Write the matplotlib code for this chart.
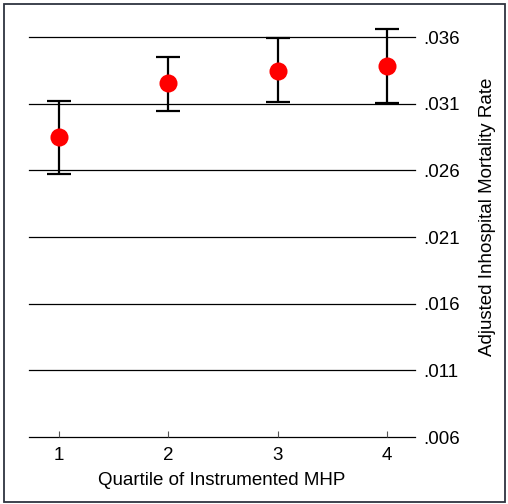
import matplotlib
matplotlib.use("Agg")
import matplotlib.pyplot as plt
from matplotlib.patches import Rectangle
from matplotlib.ticker import FixedLocator, FuncFormatter

plt.rcParams['font.family'] = ['Liberation Sans', 'DejaVu Sans']

quartiles = [1, 2, 3, 4]
rates = [0.02852, 0.03253, 0.03345, 0.03382]
ci_low = [0.02570, 0.03045, 0.03110, 0.03103]
ci_high = [0.03122, 0.03453, 0.03590, 0.03658]
y_ticks = [0.006, 0.011, 0.016, 0.021, 0.026, 0.031, 0.036]

W, H = 508, 504
fig = plt.figure(figsize=(W / 100, H / 100), dpi=100)
fig.patch.set_facecolor('white')

left, right, bottom, top = 29, 415, 437, 20
ax = fig.add_axes([left / W, 1 - bottom / H, (right - left) / W, (bottom - top) / H])

x0 = 1 - 30 / 109.5
x1 = 4 + 28 / 109.5
ax.set_xlim(x0, x1)
ax.set_ylim(0.006, 0.036 + 17 / 13.333 * 0.001)

for t in y_ticks:
    ax.axhline(t, color='black', lw=0.9, zorder=1, clip_on=False)

yerr = [[r - l for r, l in zip(rates, ci_low)], [h - r for r, h in zip(rates, ci_high)]]
ax.errorbar(quartiles, rates, yerr=yerr, fmt='none', ecolor='black', elinewidth=1.6,
            capsize=8.5, capthick=1.6, zorder=2)
ax.plot(quartiles, rates, 'o', color='#ff0000', markersize=13, markeredgewidth=0, zorder=3)

for s in ['top', 'left', 'right', 'bottom']:
    ax.spines[s].set_visible(False)

fs = 13.5
ax.yaxis.tick_right()
ax.yaxis.set_major_locator(FixedLocator(y_ticks))
ax.yaxis.set_major_formatter(FuncFormatter(lambda v, p: ('%.3f' % v).lstrip('0')))
ax.tick_params(axis='y', length=0, pad=6, labelsize=fs)
fig.text(487 / W, 1 - 217 / H, 'Adjusted Inhospital Mortality Rate', fontsize=fs,
         rotation=90, ha='center', va='center')

ax.set_xticks(quartiles)
ax.set_xticklabels([str(q) for q in quartiles])
ax.tick_params(axis='x', direction='in', length=4, width=0.8, color='#555555', pad=7, labelsize=fs)
ax.set_xlabel('Quartile of Instrumented MHP', fontsize=fs, labelpad=6)

fig.patches.append(Rectangle((3.5 / W, 1 - 502 / H), (505 - 3.5) / W, (502 - 3.5) / H,
                             transform=fig.transFigure, fill=False, edgecolor='#2e3440',
                             lw=1.3, zorder=10))

fig.savefig('out.png', dpi=100, facecolor='white')
